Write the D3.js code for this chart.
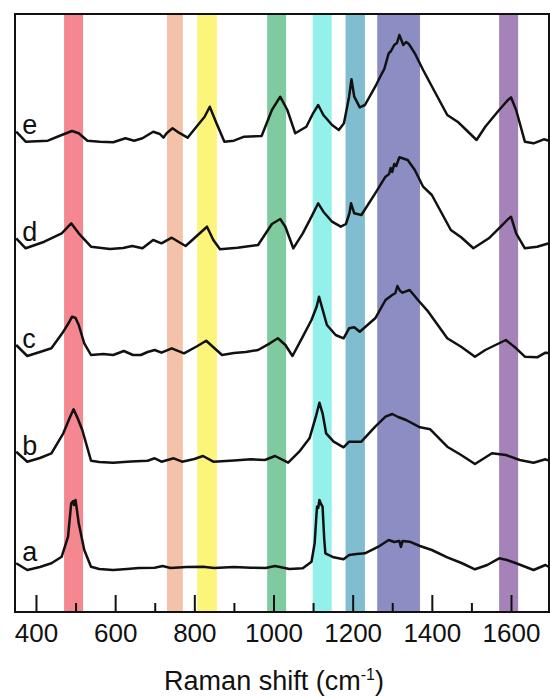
<!DOCTYPE html>
<html>
<head>
<meta charset="utf-8">
<script src="https://cdn.jsdelivr.net/npm/d3@7"></script>
<style>
  body { margin: 0; background: #fff; }
  text { font-family: "Liberation Sans", Arial, sans-serif; fill: #111; }
</style>
</head>
<body>
<div id="chart"></div>
<script>
// highlighted bands (cm-1)
const bandStart = [471, 731, 807, 984, 1099, 1182, 1262, 1570]
const bandEnd   = [519, 771, 857, 1032, 1147, 1231, 1370, 1618]
const bandColors = ['#f4878f', '#f4c2a9', '#fdf57a', '#7fcb9f', '#93f0ea', '#80bdd0', '#8b8dc3', '#a583b9']

const xTicks = [400, 600, 800, 1000, 1200, 1400, 1600]
const xMinor = [500, 700, 900, 1100, 1300, 1500]

const labels  = ['a', 'b', 'c', 'd', 'e']
const offsets = [44, 150, 257, 364, 471]

// [Raman shift, intensity a.u.]
const specA = [[350,4.7],[378,-2],[410,1],[439,4.7],[465,11.3],[481,31.3],[489,64.7],[494,67],[496,63],[500,68],[508,44.7],[522,18],[539,1.3],[560,-1],[595,-2],[630,-1],[660,0],[700,0.3],[720,2],[740,0],[780,1],[822,1.3],[850,0],[900,1],[943,0.3],[980,0],[1004,2],[1040,-1],[1074,-0.3],[1096,6.3],[1104,24.7],[1108,50],[1110,61.3],[1113,60],[1116,68],[1120,64],[1124,61.3],[1128,30],[1131,14.7],[1152,10.7],[1177,8.7],[1191,13],[1210,14],[1231,14.7],[1265,21.3],[1291,28],[1305,26],[1318,27],[1322,21],[1326,27],[1344,26.3],[1370,22],[1400,18],[1439,10.7],[1475,5],[1509,-1.3],[1540,3],[1570,9.7],[1590,8],[1613,4.7],[1657,-2],[1687,3],[1696,1]]

const specB = [[350,10.3],[378,0.3],[410,4],[439,8.7],[469,28.7],[486,45],[495,52.7],[505,44],[517,32],[539,1.3],[560,0],[595,-0.7],[640,0.5],[682,1.3],[700,3.7],[717,0.3],[748,3.7],[769,0.3],[800,3],[822,6],[848,0.3],[900,1.5],[943,2.7],[978,2],[1004,6],[1037,-0.7],[1065,10.3],[1091,23.7],[1107,45.3],[1116,59.3],[1124,48.7],[1133,28.7],[1152,20.3],[1177,14.7],[1191,20.3],[1222,20.3],[1257,35.3],[1283,45.3],[1300,48],[1315,45],[1335,42],[1370,34.7],[1396,32.7],[1439,15.3],[1474,7],[1509,-2],[1552,8.7],[1587,7],[1622,2],[1657,-0.7],[1687,2.7],[1696,1.3]]

const specC = [[350,10],[378,-1],[410,3],[439,6.7],[469,23.3],[484,33],[491,38.3],[500,37],[508,30],[522,11.7],[539,0],[570,1],[595,0],[622,4],[645,0],[665,0],[682,3],[700,5],[717,2.3],[743,6.7],[774,1.7],[808,9],[830,14.3],[856,5],[870,0],[900,2],[930,3],[961,5],[991,11.7],[1011,16.7],[1030,10],[1048,-1],[1074,18.3],[1096,35],[1109,48.3],[1115,58.3],[1122,48.3],[1135,30],[1157,20],[1177,16.7],[1191,26.7],[1204,27.7],[1218,23.3],[1257,36.7],[1283,55],[1300,60],[1308,62],[1313,69],[1320,64],[1326,62.3],[1344,65],[1365,55],[1391,43.3],[1439,16.7],[1474,8.3],[1509,-1.7],[1535,5],[1587,15],[1613,6.7],[1635,-1.7],[1666,-2.3],[1687,2.3],[1696,2]]

const specD = [[350,9.7],[374,-0.3],[421,6.3],[465,14.7],[489,24.7],[508,14.7],[539,1.3],[587,-1],[620,0],[643,2],[669,-0.3],[696,8],[717,4.7],[743,10.3],[778,2],[804,11.3],[832,21.3],[848,8],[865,-1.3],[909,0.3],[961,3],[996,24],[1017,29],[1030,21.3],[1050,-0.3],[1074,14.7],[1096,31.3],[1113,44.7],[1126,36.3],[1148,26.3],[1170,21.3],[1183,24],[1192,35],[1196,44.7],[1204,34.7],[1222,33],[1257,54.7],[1283,71.3],[1292,74],[1296,80],[1300,76],[1305,84],[1310,82],[1318,90.7],[1339,88],[1357,78],[1378,61.3],[1400,53],[1448,18],[1474,10.7],[1505,-0.3],[1544,9.7],[1574,21.3],[1593,29],[1600,31.3],[1613,14.7],[1635,-0.3],[1666,1.3],[1696,4.7]]

const specE = [[350,9.3],[374,-0.7],[430,0.3],[465,6],[491,10],[508,7.7],[530,0.3],[561,-0.7],[595,-1.3],[626,2.7],[648,0.3],[669,2.7],[696,9.3],[713,7],[722,3.3],[730,7.7],[745,12.7],[761,8.3],[783,3.3],[809,16],[826,24.3],[839,34.3],[856,17.7],[876,-0.7],[900,0.3],[926,4.3],[970,5],[996,31],[1017,44.3],[1035,31],[1055,7.7],[1083,14.3],[1100,27.7],[1113,36],[1126,26],[1148,16],[1165,11],[1178,17.7],[1191,44.3],[1197,61.7],[1204,44.3],[1218,33.7],[1231,36],[1257,54.3],[1274,67.7],[1280,72],[1291,87.7],[1297,90],[1305,96],[1312,98],[1318,106],[1328,96],[1335,99],[1342,97],[1357,87.7],[1378,71],[1405,51],[1439,26],[1465,19.3],[1487,11],[1513,1],[1535,14.3],[1570,31],[1590,40],[1600,43.7],[1613,31],[1635,-0.7],[1657,-2.3],[1683,1.7],[1696,0.3]]

const spectra = [specA, specB, specC, specD, specE]

const W = 550, H = 696
const margin = {top: 14, right: 1, bottom: 84, left: 15}
const width = W - margin.left - margin.right
const height = H - margin.top - margin.bottom

const svg = d3.select('#chart').append('svg')
  .attr('width', W)
  .attr('height', H)

const g = svg.append('g')
  .attr('transform', 'translate(' + margin.left + ',' + margin.top + ')')

const x = d3.scaleLinear().domain([347, 1696]).range([0, width])
const y = d3.scaleLinear().domain([0, 598]).range([height, 0])

// colored bands
g.append('g').selectAll('rect')
  .data(bandStart)
  .enter().append('rect')
  .attr('x', d => x(d))
  .attr('y', 0)
  .attr('width', (d, i) => x(bandEnd[i]) - x(d))
  .attr('height', height)
  .style('fill', (d, i) => bandColors[i])

// spectra
const line = d3.line()
  .x(d => x(d[0]))
  .y(d => d[1])

spectra.forEach((s, i) => {
  g.append('path')
    .datum(s.map(p => [p[0], y(p[1] + offsets[i])]))
    .attr('d', line)
    .attr('fill', 'none')
    .attr('stroke', '#111')
    .attr('stroke-width', 2.5)
    .attr('stroke-linejoin', 'round')
})

// spectrum letters
g.append('g').selectAll('text')
  .data(labels)
  .enter().append('text')
  .attr('x', x(365))
  .attr('y', (d, i) => y(offsets[i]) - 7)
  .style('font-size', '27px')
  .text(d => d)

// bottom axis, ticks pointing inward
g.append('g')
  .attr('transform', 'translate(0,' + height + ')')
  .call(d3.axisBottom(x).tickValues(xMinor).tickSize(-9).tickFormat(''))
  .call(a => a.select('.domain').remove())
  .call(a => a.selectAll('line').attr('stroke', '#111').attr('stroke-width', 2))

const xAxis = g.append('g')
  .attr('transform', 'translate(0,' + height + ')')
  .call(d3.axisBottom(x).tickValues(xTicks).tickSize(-17).tickPadding(12).tickFormat(d3.format('d')))
xAxis.select('.domain').remove()
xAxis.selectAll('line').attr('stroke', '#111').attr('stroke-width', 2)
xAxis.selectAll('text').style('font-size', '26px').attr('fill', '#111')

// frame
g.append('rect')
  .attr('x', 0).attr('y', 0)
  .attr('width', width).attr('height', height)
  .attr('fill', 'none')
  .attr('stroke', '#111')
  .attr('stroke-width', 2)

// title
const title = svg.append('text')
  .attr('x', 274)
  .attr('y', 690)
  .attr('text-anchor', 'middle')
  .style('font-size', '27px')
title.append('tspan').text('Raman shift (cm')
title.append('tspan').attr('dy', -10).style('font-size', '16px').text('-1')
title.append('tspan').attr('dy', 10).text(')')
</script>
</body>
</html>
